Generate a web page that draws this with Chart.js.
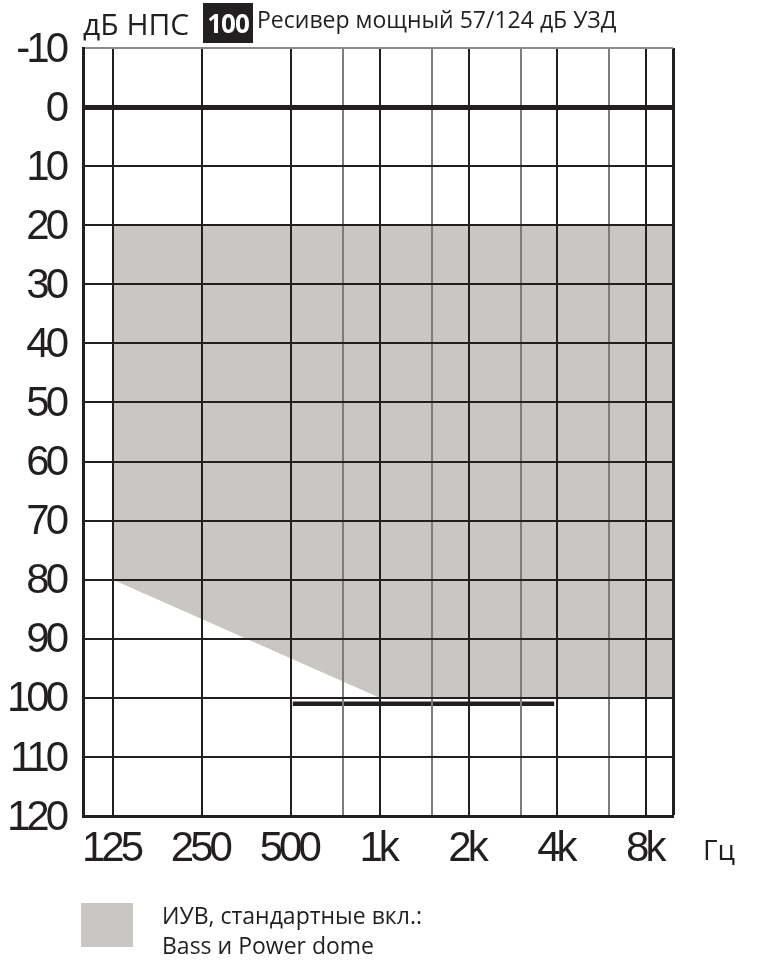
<!DOCTYPE html>
<html>
<head>
<meta charset="utf-8">
<script src="https://cdn.jsdelivr.net/npm/chart.js@4"></script>
<style>
  html, body { margin: 0; padding: 0; background: #ffffff; }
  #wrap { position: relative; width: 760px; height: 974px; overflow: hidden; }
  #c { position: absolute; left: 0; top: 0; }
  .t { position: absolute; font-family: "Open Sans", sans-serif; color: #231f20; line-height: 1; white-space: nowrap; }
  #box { position: absolute; left: 203px; top: 3px; width: 50px; height: 40px; background: #231f20; color: #fff;
         font-family: "Open Sans", sans-serif; font-weight: bold; font-size: 26px; letter-spacing: -1px;
         display: flex; align-items: center; justify-content: center; }
  #legbox { position: absolute; left: 81px; top: 903px; width: 52px; height: 44px; background: #c8c7c3; }
</style>
</head>
<body>
<div id="wrap">
  <canvas id="c" width="760" height="974"></canvas>
  <div class="t" style="left:83px; top:9px; font-size:30px;">дБ НПС</div>
  <div id="box">100</div>
  <div class="t" style="left:257px; top:8px; font-size:23px;">Ресивер мощный 57/124 дБ УЗД</div>
  <div class="t" style="left:703px; top:835px; font-size:28px;">Гц</div>
  <div id="legbox"></div>
  <div class="t" style="left:162px; top:900px; font-size:23px; line-height:30px;">ИУВ, стандартные вкл.:<br>Bass и Power dome</div>
</div>
<script>
// ---- data ----
const axisMinHz = 98.9;
const axisMaxHz = 9852;
const mainFreqs = [125, 250, 500, 1000, 2000, 4000, 8000];
const mainLabels = ['125', '250', '500', '1k', '2k', '4k', '8k'];
const halfFreqs = [750, 1500, 3000, 6000];
const dbTicks = [-10, 0, 10, 20, 30, 40, 50, 60, 70, 80, 90, 100, 110, 120];

// grey range (ИУВ): upper and lower limits
const rangeFreqs = [125, 1000, 9852];
const rangeUpper = [20, 20, 20];
const rangeLower = [80, 100, 100];

// black bar
const barFreqs = [508, 3900];
const barLevel = [101, 101];

const INK = '#231f20';
const GREY = '#c8c7c3';

const allXTicks = [axisMinHz].concat(mainFreqs, halfFreqs, [axisMaxHz]).sort((a, b) => a - b);

const narrowText = {
  id: 'narrowText',
  beforeDraw(chart) { chart.ctx.letterSpacing = '-4px'; }
};

const ctx = document.getElementById('c').getContext('2d');
new Chart(ctx, {
  type: 'line',
  plugins: [narrowText],
  data: {
    datasets: [
      {
        label: 'upper',
        data: rangeFreqs.map((f, i) => ({ x: f, y: rangeUpper[i] })),
        borderWidth: 0, borderColor: 'rgba(0,0,0,0)', pointRadius: 0, fill: false, tension: 0
      },
      {
        label: 'ИУВ',
        data: rangeFreqs.map((f, i) => ({ x: f, y: rangeLower[i] })),
        borderWidth: 0, borderColor: 'rgba(0,0,0,0)', pointRadius: 0, tension: 0,
        fill: '-1', backgroundColor: GREY
      },
      {
        label: 'bar',
        data: barFreqs.map((f, i) => ({ x: f, y: barLevel[i] })),
        borderColor: INK, borderWidth: 4.5, pointRadius: 0, fill: false, borderCapStyle: 'butt'
      }
    ]
  },
  options: {
    responsive: false,
    animation: false,
    devicePixelRatio: 1,
    layout: { padding: { top: 48, right: 87, left: 0, bottom: 0 } },
    plugins: {
      legend: { display: false },
      tooltip: { enabled: false }
    },
    scales: {
      x: {
        type: 'logarithmic',
        min: axisMinHz,
        max: axisMaxHz,
        afterBuildTicks: (s) => { s.ticks = allXTicks.map(v => ({ value: v })); },
        afterFit: (s) => { s.height = 158; },
        border: { display: true, color: INK, width: 3, z: 2 },
        grid: {
          z: 1,
          drawTicks: false,
          color: (c) => (halfFreqs.includes(c.tick.value) ? '#7d7b7b' : (c.tick.value === axisMinHz ? 'rgba(0,0,0,0)' : INK)),
          lineWidth: (c) => (c.tick.value === axisMaxHz ? 3 : 2)
        },
        ticks: {
          autoSkip: false,
          maxRotation: 0,
          padding: 12,
          labelOffset: -2,
          color: INK,
          font: { family: '"Liberation Sans Narrow", "Liberation Sans", Arial, sans-serif', size: 42, lineHeight: 1 },
          callback: (v) => { const i = mainFreqs.indexOf(v); return i >= 0 ? mainLabels[i] : ''; }
        }
      },
      y: {
        type: 'linear',
        reverse: true,
        min: -10,
        max: 120,
        afterBuildTicks: (s) => { s.ticks = dbTicks.map(v => ({ value: v })); },
        afterFit: (s) => { s.width = 83; },
        border: { display: true, color: INK, width: 3, z: 2 },
        grid: {
          z: 1,
          drawTicks: false,
          color: (c) => (c.tick.value === -10 ? '#8a8888' : INK),
          lineWidth: (c) => (c.tick.value === 0 ? 5 : 2)
        },
        ticks: {
          padding: 18,
          labelOffset: 2,
          color: INK,
          font: { family: '"Liberation Sans Narrow", "Liberation Sans", Arial, sans-serif', size: 42, lineHeight: 1 }
        }
      }
    }
  }
});
</script>
</body>
</html>
